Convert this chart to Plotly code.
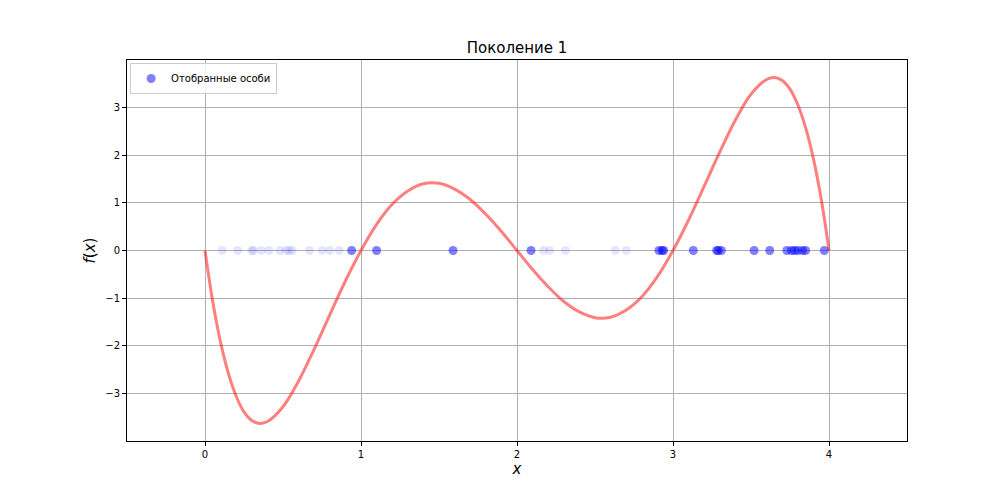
import plotly.graph_objects as go

# curve f(x), values
curve_x = [0.0, 0.05, 0.1, 0.15, 0.2, 0.25, 0.3, 0.35, 0.4, 0.5, 0.6, 0.7, 0.8, 0.9, 1.0,
           1.1, 1.2, 1.3, 1.4, 1.5, 1.6, 1.7, 1.8, 1.9, 2.0,
           2.1, 2.2, 2.3, 2.4, 2.5, 2.6, 2.7, 2.8, 2.9, 3.0,
           3.1, 3.2, 3.3, 3.4, 3.5, 3.6, 3.65, 3.7, 3.75, 3.8, 3.85, 3.9, 3.95, 4.0]
curve_y = [0.0, -1.08, -1.93, -2.58, -3.06, -3.39, -3.57, -3.63, -3.59, -3.28, -2.74, -2.07, -1.35, -0.64, 0.0,
           0.55, 0.97, 1.25, 1.40, 1.41, 1.29, 1.07, 0.76, 0.40, 0.0,
           -0.40, -0.76, -1.07, -1.29, -1.41, -1.40, -1.25, -0.97, -0.55, 0.0,
           0.64, 1.35, 2.07, 2.74, 3.28, 3.59, 3.63, 3.57, 3.39, 3.06, 2.58, 1.93, 1.08, 0.0]

# population (faint) and selected individuals
population_x = [0.11, 0.21, 0.30, 0.31, 0.36, 0.41, 0.48, 0.52, 0.54, 0.56,
                0.67, 0.75, 0.80, 0.86, 2.17, 2.21, 2.31, 2.63, 2.70]
selected_x = [0.94, 1.10, 1.59, 2.09, 2.91, 2.93, 2.94, 3.13, 3.28, 3.29, 3.31,
              3.52, 3.62, 3.73, 3.76, 3.78, 3.80, 3.83, 3.85, 3.97]

x_ticks = [0, 1, 2, 3, 4]
y_ticks = [-3, -2, -1, 0, 1, 2, 3]

fig = go.Figure()

fig.add_trace(go.Scatter(
    x=curve_x, y=curve_y, mode='lines', line_shape='spline',
    line=dict(color='rgba(255,0,0,0.5)', width=3),
    showlegend=False, hoverinfo='skip'))

fig.add_trace(go.Scatter(
    x=population_x, y=[0] * len(population_x), mode='markers',
    marker=dict(color='rgba(0,0,255,0.1)', size=9, line=dict(width=0)),
    showlegend=False))

fig.add_trace(go.Scatter(
    x=selected_x, y=[0] * len(selected_x), mode='markers',
    marker=dict(color='rgba(0,0,255,0.5)', size=9, line=dict(width=0)),
    name='Отобранные особи'))

axis_style = dict(showline=True, linecolor='black', linewidth=1, mirror=True,
                  ticks='outside', ticklen=4, tickcolor='black',
                  showgrid=True, gridcolor='#b0b0b0', gridwidth=0.8,
                  zeroline=False, tickfont=dict(size=10, color='black'))

# the page body adds 8px on the left/top, so margins are shifted by that much
fig.update_layout(
    width=1008, height=504,
    paper_bgcolor='white', plot_bgcolor='white',
    font=dict(family='DejaVu Sans', color='black'),
    margin=dict(l=119, r=109, t=52, b=71),
    title=dict(text='Поколение 1', x=0.505, xanchor='center', y=0.91,
               yanchor='bottom', font=dict(size=15)),
    xaxis=dict(range=[-0.5, 4.5], tickvals=x_ticks,
               title=dict(text='<i>x</i>', font=dict(size=15), standoff=3),
               **axis_style),
    yaxis=dict(range=[-4.0, 4.0], tickvals=y_ticks,
               title=dict(text='<i>f</i>(<i>x</i>)', font=dict(size=15), standoff=6),
               **axis_style),
    legend=dict(x=0.004, y=0.992, xanchor='left', yanchor='top',
                bgcolor='rgba(255,255,255,0.8)', bordercolor='#cccccc', borderwidth=1,
                font=dict(size=10), itemwidth=30, tracegroupgap=0),
)

fig.write_html("out.html")
